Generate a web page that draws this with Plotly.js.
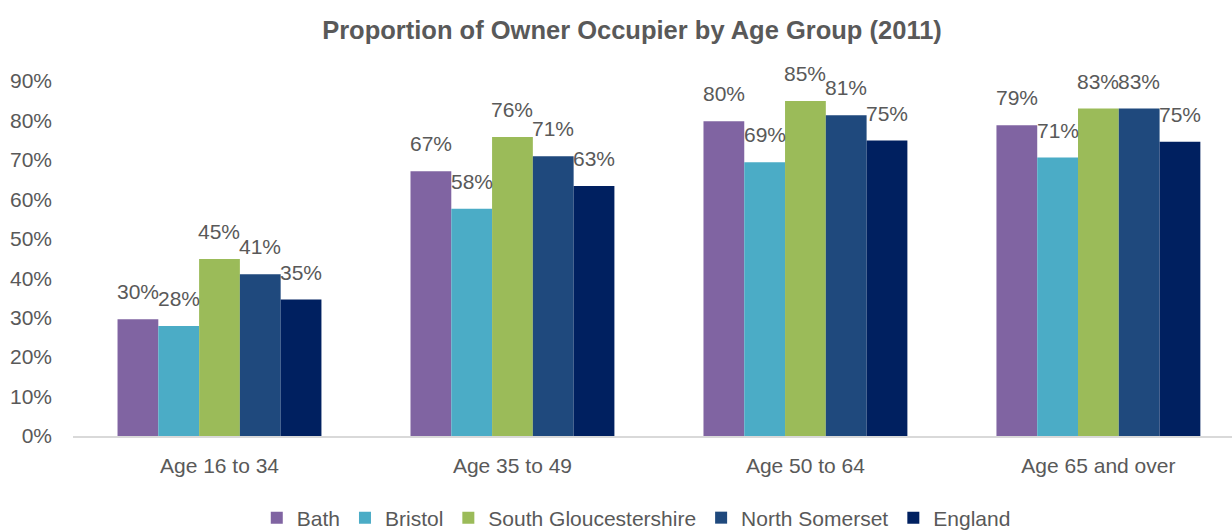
<!DOCTYPE html>
<html>
<head>
<meta charset="utf-8">
<script src="https://cdn.plot.ly/plotly-3.0.1.min.js"></script>
<style>
html,body{margin:0;padding:0;background:#fff;overflow:hidden;}
#chart{width:1232px;height:530px;}
</style>
</head>
<body>
<div id="chart"></div>
<script>
const categories = ['Age 16 to 34', 'Age 35 to 49', 'Age 50 to 64', 'Age 65 and over'];
const seriesNames = ['Bath', 'Bristol', 'South Gloucestershire', 'North Somerset', 'England'];
const bath = [29.6, 67.1, 79.8, 78.8];
const bristol = [27.9, 57.6, 69.4, 70.6];
const southGlos = [44.9, 75.8, 84.9, 83.0];
const northSomerset = [41.0, 70.9, 81.3, 83.0];
const england = [34.6, 63.4, 74.9, 74.6];
const colors = ['#8064A2', '#4BACC6', '#9BBB59', '#1F497D', '#002060'];
const yTickVals = [0, 10, 20, 30, 40, 50, 60, 70, 80, 90];
const yTickText = yTickVals.map(v => v + '%');

const allSeries = [bath, bristol, southGlos, northSomerset, england];
const FONT = '"Liberation Sans", Arial, sans-serif';
const TXT = '#595959';
const bargap = 0.304;
const n = allSeries.length;
const bw = (1 - bargap) / n;

const traces = allSeries.map((vals, i) => ({
  type: 'bar',
  name: seriesNames[i],
  x: categories,
  y: vals,
  marker: {color: colors[i]},
  hoverinfo: 'name+y'
}));

const annotations = [];
allSeries.forEach((vals, i) => {
  const off = -(1 - bargap) / 2 + (i + 0.5) * bw;
  vals.forEach((v, j) => {
    annotations.push({
      x: j + off, y: v, xref: 'x', yref: 'y',
      text: Math.round(v) + '%',
      showarrow: false, yanchor: 'bottom', yshift: 14,
      font: {family: FONT, size: 21, color: TXT}
    });
  });
});

const layout = {
  width: 1232, height: 530,
  margin: {l: 73, r: 0, t: 81, b: 94, autoexpand: false},
  paper_bgcolor: '#fff', plot_bgcolor: '#fff',
  barmode: 'group', bargap: bargap, bargroupgap: 0,
  title: {
    text: '<b>Proportion of Owner Occupier by Age Group (2011)</b>',
    x: 0.513, xanchor: 'center', y: 0.944, yanchor: 'middle',
    font: {family: FONT, size: 25.5, color: TXT}
  },
  xaxis: {
    type: 'category',
    range: [-0.5, 3.456],
    showline: true, linecolor: '#d9d9d9', linewidth: 1.5,
    showgrid: false, zeroline: false, ticks: '',
    tickfont: {family: FONT, size: 21, color: TXT},
    ticklabelstandoff: 10
  },
  yaxis: {
    range: [0, 90],
    tickvals: yTickVals,
    ticktext: yTickText,
    showgrid: false, zeroline: false, showline: false, ticks: '',
    tickfont: {family: FONT, size: 21, color: TXT},
    ticklabelstandoff: 20
  },
  legend: {
    orientation: 'h', x: 0.486, xanchor: 'center', y: -0.231, yanchor: 'middle',
    font: {family: FONT, size: 21, color: TXT},
    itemwidth: 30, tracegroupgap: 0
  },
  annotations: annotations,
  showlegend: true
};

Plotly.newPlot('chart', traces, layout, {displayModeBar: false, staticPlot: true});
</script>
</body>
</html>
